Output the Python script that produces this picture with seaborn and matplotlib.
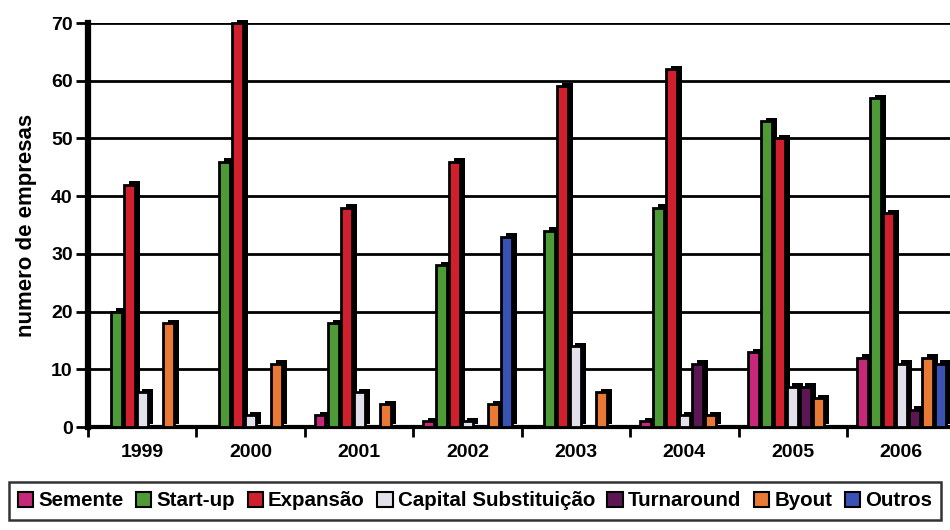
import numpy as np
import pandas as pd
import matplotlib
matplotlib.use("Agg")
import matplotlib.pyplot as plt
import matplotlib.patheffects as pe
from matplotlib.patches import Patch
from matplotlib import font_manager
import seaborn as sns

anos = ["1999", "2000", "2001", "2002", "2003", "2004", "2005", "2006"]
tipos = ["Semente", "Start-up", "Expansão", "Capital Substituição",
         "Turnaround", "Byout", "Outros"]

semente   = [0, 0, 2, 1, 0, 1, 13, 12]
startup   = [20, 46, 18, 28, 34, 38, 53, 57]
expansao  = [42, 70, 38, 46, 59, 62, 50, 37]
capital   = [6, 2, 6, 1, 14, 2, 7, 11]
turnaround = [0, 0, 0, 0, 0, 11, 7, 3]
byout     = [18, 11, 4, 4, 6, 2, 5, 12]
outros    = [0, 0, 0, 33, 0, 0, 0, 11]

cores = ["#C8287A", "#4E9A36", "#D0202E", "#E2E0EA", "#5C1654", "#E87A36", "#3A52B4"]

series = [semente, startup, expansao, capital, turnaround, byout, outros]
df = pd.DataFrame(
    [(a, t, v) for t, vals in zip(tipos, series) for a, v in zip(anos, vals)],
    columns=["ano", "tipo", "valor"],
)

sns.set_style("white")
available = {f.name for f in font_manager.fontManager.ttflist}
fam = ["Liberation Sans Narrow", "Liberation Sans", "DejaVu Sans"]
fam = [f for f in fam if f in available] or ["DejaVu Sans"]
plt.rcParams["font.family"] = fam
plt.rcParams["font.weight"] = "bold"
plt.rcParams["text.color"] = "black"
plt.rcParams["axes.labelcolor"] = "black"
plt.rcParams["xtick.color"] = "black"
plt.rcParams["ytick.color"] = "black"

fig = plt.figure(figsize=(9.5, 5.3), dpi=100)
ax = fig.add_axes([88 / 950, 1 - 427 / 530, 1 - 88 / 950, (427 - 23) / 530])

sns.barplot(data=df, x="ano", y="valor", hue="tipo", hue_order=tipos,
            palette=cores, saturation=1, width=0.84, gap=0.16,
            edgecolor="black", linewidth=2, ax=ax, zorder=3, legend=False)

# 3D-style depth: black block behind each column, offset up and to the right
depth = [pe.SimplePatchShadow(offset=(3.6, 2.4), shadow_rgbFace="black", alpha=1.0),
         pe.Normal()]
for p in ax.patches:
    if p.get_height() <= 0:
        p.set_visible(False)
        continue
    p.set_path_effects(depth)
    p.set_clip_on(False)

ax.set_ylim(0, 70)
ax.set_xlim(-0.5, 7.45)
ax.set_yticks(range(0, 71, 10))
ax.yaxis.grid(True, color="black", linewidth=2)
ax.set_axisbelow(True)

for s in ["top", "right"]:
    ax.spines[s].set_visible(False)
ax.spines["left"].set_linewidth(4.5)
ax.spines["bottom"].set_linewidth(3)
ax.spines["left"].set_color("black")
ax.spines["bottom"].set_color("black")

ax.set_xticks(np.arange(-0.5, 7.5, 1), minor=True)
ax.tick_params(axis="x", which="major", length=0, pad=12, labelsize=14)
ax.tick_params(axis="x", which="minor", length=7, width=2, direction="out",
               color="black", bottom=True)
ax.tick_params(axis="y", length=9, width=2, direction="out", color="black",
               labelsize=14, pad=2, left=True)
for lab in ax.get_xticklabels() + ax.get_yticklabels():
    lab.set_fontweight("bold")

ax.set_xlabel("")
ax.set_ylabel("numero de empresas", fontsize=16, fontweight="bold", labelpad=10)

handles = [Patch(facecolor=c, edgecolor="black", linewidth=1.5) for c in cores]
leg = fig.legend(handles, tipos, loc="lower center", bbox_to_anchor=(0.5, 0.0),
                 ncol=7, frameon=True, fancybox=False, edgecolor="black",
                 handlelength=0.75, handleheight=0.75,
                 handletextpad=0.25, columnspacing=0.6, borderpad=0.45,
                 prop={"weight": "bold", "size": 14.8})
leg.get_frame().set_linewidth(1.8)

fig.savefig("out.png", dpi=100)
